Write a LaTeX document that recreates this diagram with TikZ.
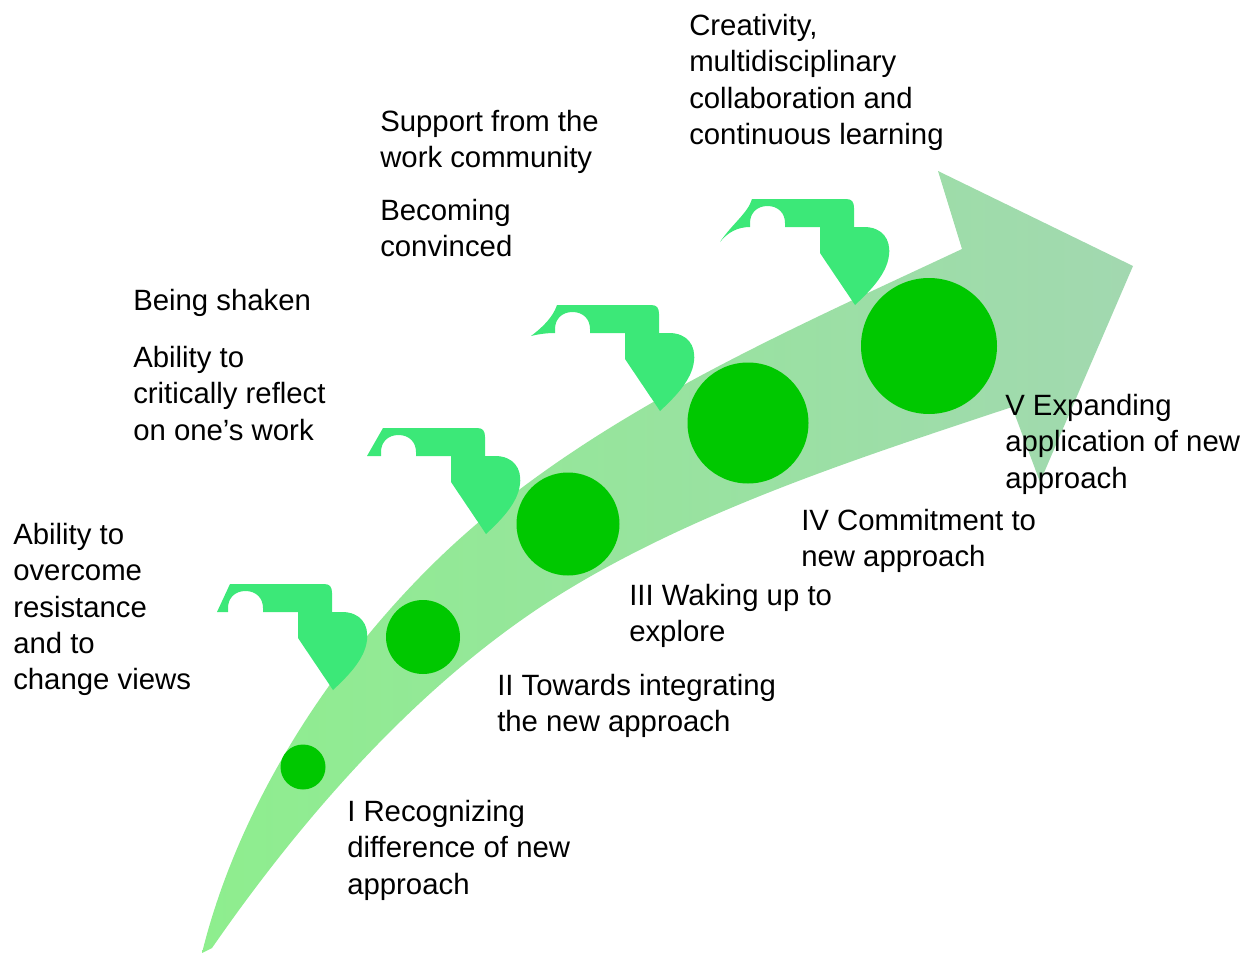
\documentclass[tikz,border=0pt]{standalone}
\usepackage{fontspec}
\setmainfont{Liberation Sans}
\definecolor{arrowL}{HTML}{8EEE8E}
\definecolor{arrowR}{HTML}{A2D8B0}
\definecolor{flagc}{HTML}{3CE878}
\definecolor{dotc}{HTML}{00C800}
\newcommand{\flagcore}{(0,0) -- (94,0) .. controls (100,0) and (102,3) .. (102,9) -- (102,28) -- (112,28) .. controls (130,28) and (139,40) .. (137,56) .. controls (135,75) and (118,92) .. (103,106) -- (68,54) -- (68,28) -- (33,28) -- (33,24) .. controls (33,14) and (26,7) .. (15.5,7) .. controls (5,7) and (-2,14) .. (-2,24) -- (-2,28)}
\begin{document}
\begin{tikzpicture}[x=0.75pt,y=-0.75pt,
  lbl/.style={anchor=north west,inner sep=0pt,align=left,font=\fontsize{22pt}{27.2pt}\selectfont},
  dot/.style={circle,fill=dotc,inner sep=0pt,minimum size=#1},
  flagshape/.style={fill=flagc}]
\useasboundingbox (0,0) rectangle (1243,953);
% arrow
\shade[left color=arrowL,right color=arrowR]
  (202,953) .. controls (238,807) and (329,665) .. (437,560)
  .. controls (581,420) and (781,334) .. (962,249)
  -- (938,171) -- (1133,266) -- (1040,482) -- (1012,407)
  .. controls (862,457) and (685,513) .. (545,604)
  .. controls (415,689) and (302,818) .. (212,948)
  -- cycle;
% flags
\fill[flagshape,shift={(230,584)}] \flagcore -- (-13,28) -- cycle;
\fill[flagshape,shift={(383,428)}] \flagcore -- (-16,28) -- cycle;
\fill[flagshape,shift={(557,305)}] \flagcore .. controls (-10,28) and (-18,29) .. (-26,31) .. controls (-14,22) and (-4,12) .. (0,0) -- cycle;
\fill[flagshape,shift={(752,199)}] \flagcore .. controls (-14,28) and (-24,33) .. (-32,43) .. controls (-20,25) and (-4,14) .. (0,0) -- cycle;
% circles
\node[dot=33.75pt] (c1) at (303,767) {};
\node[dot=55.5pt] (c2) at (423,637) {};
\node[dot=77.25pt] (c3) at (568,524) {};
\node[dot=90.75pt] (c4) at (748,423) {};
\node[dot=102pt] (c5) at (929,346) {};
% texts
\node[lbl] (t1) at (689,14) {Creativity,\\multidisciplinary\\collaboration and\\continuous learning};
\node[lbl] (t2) at (380,110) {Support from the\\work community};
\node[lbl] (t3) at (380,199) {Becoming\\convinced};
\node[lbl] (t4) at (133,289) {Being shaken};
\node[lbl] (t5) at (133,346) {Ability to\\critically reflect\\on one’s work};
\node[lbl] (t6) at (13,523) {Ability to\\overcome\\resistance\\and to\\change views};
\node[lbl] (t7) at (347,800) {I Recognizing\\difference of new\\approach};
\node[lbl] (t8) at (497,674) {II Towards integrating\\the new approach};
\node[lbl] (t9) at (629,584) {III Waking up to\\explore};
\node[lbl] (t10) at (801,509) {IV Commitment to\\new approach};
\node[lbl] (t11) at (1005,394) {V Expanding\\application of new\\approach};
\end{tikzpicture}
\end{document}
